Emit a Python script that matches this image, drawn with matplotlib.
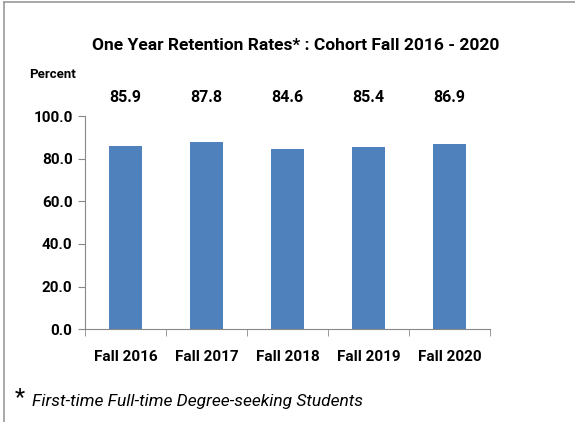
import matplotlib.pyplot as plt
from matplotlib.lines import Line2D

categories = ['Fall 2016', 'Fall 2017', 'Fall 2018', 'Fall 2019', 'Fall 2020']
rates = [85.9, 87.8, 84.6, 85.4, 86.9]
yticks = [0, 20, 40, 60, 80, 100]

plt.rcParams['font.family'] = ['Roboto', 'DejaVu Sans']

fig = plt.figure(figsize=(5.75, 4.22), dpi=100)
ax = fig.add_axes([0.148, 0.220, 0.704, 0.505])

x = range(len(categories))
ax.bar(x, rates, width=0.4, color='#4F81BD')

ax.set_xlim(-0.5, len(categories) - 0.5)
ax.set_ylim(0, 100)
ax.set_yticks(yticks)
ax.set_yticklabels([f'{v:.1f}' for v in yticks], fontsize=11, fontweight='bold')
ax.set_xticks(x)
ax.set_xticklabels(categories, fontsize=11, fontweight='bold')
ax.set_xticks([i - 0.5 for i in range(len(categories) + 1)], minor=True)
ax.tick_params(axis='x', which='major', length=0, pad=15)
ax.tick_params(axis='x', which='minor', length=5, color='#888888')
ax.tick_params(axis='y', length=5, color='#888888', pad=4)

for side in ['top', 'right']:
    ax.spines[side].set_visible(False)
for side in ['left', 'bottom']:
    ax.spines[side].set_color('#888888')

# value labels sit in a row above the plot
for i, v in enumerate(rates):
    ax.text(i, 108.5, f'{v:.1f}', ha='center', va='center', fontsize=11.5,
            fontweight='bold', clip_on=False)

fig.text(0.515, 0.893, 'One Year Retention Rates* : Cohort Fall 2016 - 2020',
         ha='center', va='center', fontsize=12.5, fontweight='bold')
fig.text(0.05, 0.823, 'Percent', ha='left', va='center', fontsize=9.5, fontweight='bold')
fig.text(0.026, 0.058, '*', ha='left', va='center', fontsize=17)
fig.text(0.055, 0.048, 'First-time Full-time Degree-seeking Students',
         ha='left', va='center', fontsize=12.5, style='italic')

# outer frame (top and left edges visible)
fig.add_artist(Line2D([0.007, 0.007], [0, 0.995], transform=fig.transFigure,
                      color='#999999', lw=1.2))
fig.add_artist(Line2D([0.007, 1], [0.995, 0.995], transform=fig.transFigure,
                      color='#999999', lw=1.2))

fig.savefig('out.png', dpi=100)
